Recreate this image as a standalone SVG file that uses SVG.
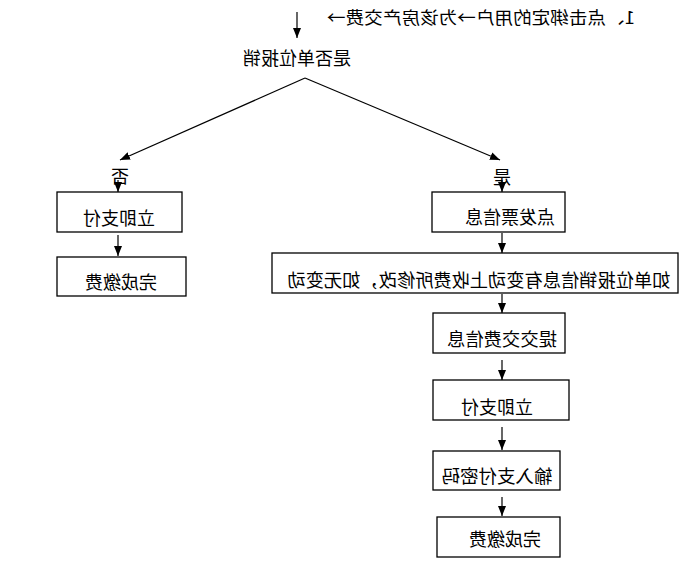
<svg xmlns="http://www.w3.org/2000/svg" width="691" height="568" viewBox="0 0 691 568">
<style>
.box{fill:#fff;stroke:#000;stroke-width:1.3}
.t{font-family:"Noto Sans CJK SC","Noto Sans CJK JP",sans-serif;font-size:18px;fill:#000;text-anchor:middle}
.ln{stroke:#000;stroke-width:1.2;fill:none;marker-end:url(#ah)}
</style>
<defs>
<marker id="ah" viewBox="0 0 10 8" refX="10" refY="4" markerWidth="10" markerHeight="8" markerUnits="userSpaceOnUse" orient="auto">
<path d="M0,0 L10,4 L0,8 z" fill="#000"/>
</marker>
</defs>
<rect width="691" height="568" fill="#fff"/>
<g transform="matrix(-1 0 0 1 691 0)">
<g id="title">
<text x="56" y="24" font-family="Noto Sans CJK SC, sans-serif" font-size="17" textLength="308" lengthAdjust="spacingAndGlyphs">1、点击绑定的用户→为该房产交费→</text>
</g>
<g id="decision">
<text class="t" x="394" y="65">是否单位报销</text>
</g>
<g id="lblNo"><text class="t" x="571" y="183">否</text></g>
<g id="lblYes"><text class="t" x="189" y="184">是</text></g>
<g id="L1"><rect class="box" x="509" y="192" width="125" height="40"/><text class="t" x="572" y="225">立即支付</text></g>
<g id="L2"><rect class="box" x="505" y="257" width="129" height="39"/><text class="t" x="570" y="289">完成缴费</text></g>
<g id="R1"><rect class="box" x="126" y="192" width="133" height="40"/><text class="t" x="181" y="224">点发票信息</text></g>
<g id="R2"><rect class="box" x="13" y="253" width="406" height="40"/><text class="t" x="212" y="287" textLength="383" lengthAdjust="spacingAndGlyphs">如单位报销信息有变动上收费所修改，如无变动</text></g>
<g id="R3"><rect class="box" x="126" y="313" width="132" height="40"/><text class="t" x="189" y="346" textLength="110" lengthAdjust="spacingAndGlyphs">提交交费信息</text></g>
<g id="R4"><rect class="box" x="122" y="380" width="136" height="40"/><text class="t" x="194" y="414">立即支付</text></g>
<g id="R5"><rect class="box" x="131" y="451" width="127" height="39"/><text class="t" x="194" y="483" textLength="111" lengthAdjust="spacingAndGlyphs">输入支付密码</text></g>
<g id="R6"><rect class="box" x="131" y="517" width="123" height="40"/><text class="t" x="186" y="546">完成缴费</text></g>
<g id="connectors">
<line class="ln" x1="394" y1="12" x2="394" y2="38"/>
<line class="ln" x1="386" y1="78" x2="571" y2="160"/>
<line class="ln" x1="386" y1="78" x2="191" y2="160"/>
<line class="ln" x1="573" y1="180" x2="573" y2="192"/>
<line class="ln" x1="573" y1="235" x2="573" y2="256"/>
<line class="ln" x1="189" y1="180" x2="189" y2="192"/>
<line class="ln" x1="189" y1="233" x2="189" y2="253"/>
<line class="ln" x1="189" y1="294" x2="189" y2="313"/>
<line class="ln" x1="189" y1="360" x2="189" y2="380"/>
<line class="ln" x1="189" y1="427" x2="189" y2="450"/>
<line class="ln" x1="189" y1="497" x2="189" y2="516"/>
</g>
</g>
</svg>
